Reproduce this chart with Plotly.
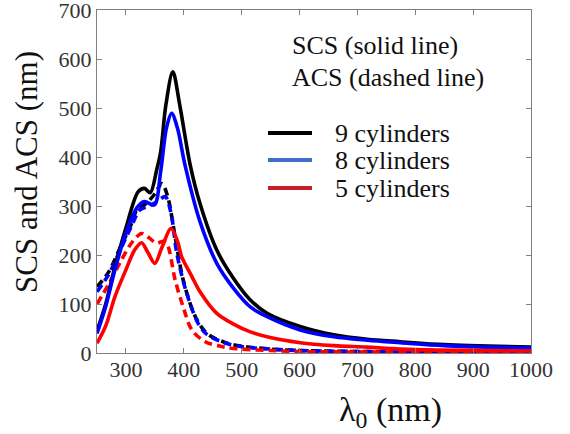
import plotly.graph_objects as go

# wavelength (nm) and values (nm)
scs9_x = [250, 265, 281, 300, 321, 332, 342, 353, 360, 369, 381, 393, 411, 428, 457, 486, 515, 544, 601, 659, 717, 774, 850, 1000]
scs9_y = [45, 100, 176, 255, 329, 336, 327, 373, 410, 506, 574, 506, 384, 305, 210, 152, 108, 81, 54, 37, 28, 23, 17, 12]

scs8_x = [250, 265, 281, 300, 320, 332, 349, 360, 370, 379, 389, 402, 428, 457, 486, 515, 544, 601, 659, 717, 774, 850, 1000]
scs8_y = [40, 95, 170, 245, 298, 309, 302, 370, 459, 489, 459, 384, 268, 183, 132, 94, 74, 47, 33, 26, 21, 15, 10]

scs5_x = [250, 265, 281, 300, 315, 327, 338, 350, 362, 378, 390, 396, 414, 428, 457, 486, 515, 544, 601, 659, 717, 774, 1000]
scs5_y = [20, 55, 115, 170, 210, 225, 205, 183, 215, 254, 225, 197, 156, 125, 81, 59, 43, 33, 21, 15, 12, 8, 4]

acs9_x = [250, 270, 290, 310, 320, 335, 350, 362, 372, 385, 399, 420, 440, 470, 500, 550, 600, 700, 1000]
acs9_y = [135, 165, 215, 265, 295, 305, 325, 346, 320, 237, 149, 74, 40, 22, 14, 8, 5, 3, 1]

acs8_x = [250, 270, 290, 310, 324, 340, 355, 368, 378, 388, 405, 425, 440, 470, 500, 550, 600, 700, 1000]
acs8_y = [125, 160, 210, 260, 292, 300, 310, 319, 285, 203, 122, 60, 38, 21, 13, 8, 5, 3, 1]

acs5_x = [250, 270, 290, 310, 327, 340, 353, 365, 372, 385, 400, 414, 437, 470, 500, 550, 600, 700, 1000]
acs5_y = [100, 140, 185, 225, 244, 235, 224, 228, 220, 149, 90, 47, 23, 12, 8, 5, 3, 2, 1]

legend_labels = ["9 cylinders", "8 cylinders", "5 cylinders"]
x_ticks = [300, 400, 500, 600, 700, 800, 900, 1000]
y_ticks = [0, 100, 200, 300, 400, 500, 600, 700]

BLACK, BLUE, RED = "#000000", "#0000ff", "#ff0000"
LEG_COLORS = ["#000000", "#3d6fc6", "#c8202a"]
FONT = "Liberation Serif"

fig = go.Figure()
for xs, ys, c in [(acs9_x, acs9_y, BLACK), (acs8_x, acs8_y, BLUE), (acs5_x, acs5_y, RED)]:
    fig.add_trace(go.Scatter(x=xs, y=ys, mode="lines",
                             line=dict(color=c, width=3.6, dash="8px,5px", shape="spline", smoothing=0.9),
                             showlegend=False, hoverinfo="skip"))
for xs, ys, c in [(scs9_x, scs9_y, BLACK), (scs8_x, scs8_y, BLUE), (scs5_x, scs5_y, RED)]:
    fig.add_trace(go.Scatter(x=xs, y=ys, mode="lines",
                             line=dict(color=c, width=3.6, shape="spline", smoothing=0.9),
                             showlegend=False, hoverinfo="skip"))

L, R, T, B = 97, 39, 10, 81
W, H = 570, 434
pw, ph = W - L - R, H - T - B

def px(x):
    return (x - L) / pw

def py(y):
    return (H - B - y) / ph

axis_common = dict(showline=True, linecolor="#808080", linewidth=1.2, mirror="ticks",
                   ticks="inside", ticklen=5, tickcolor="#808080", showgrid=False, zeroline=False,
                   ticklabeloverflow="allow", automargin=False,
                   tickfont=dict(family=FONT, size=22, color="#333333"))

fig.update_layout(
    template="none",
    width=W, height=H,
    margin=dict(l=L, r=R, t=T, b=B, autoexpand=False),
    paper_bgcolor="white", plot_bgcolor="white",
    font=dict(family=FONT),
    xaxis=dict(range=[250, 1000], tickvals=x_ticks, ticklabelstandoff=-4, **axis_common),
    yaxis=dict(range=[0, 700], tickvals=y_ticks, **axis_common),
    showlegend=False,
)

def ann(text, x, y, size, xanchor="center", angle=0):
    return dict(text=text, x=px(x), y=py(y), xref="paper", yref="paper",
                xanchor=xanchor, yanchor="middle", textangle=angle, showarrow=False,
                font=dict(family=FONT, size=size, color="#111111"))

annotations = [
    ann("SCS and ACS (nm)", 27, 172, 31, angle=-90),
    ann("λ<sub>0</sub> (nm)", 390, 412, 34),
    ann("SCS (solid line)", 290, 45, 26, xanchor="left"),
    ann("ACS (dashed line)", 290, 77, 26, xanchor="left"),
]
shapes = []
for lab, col, yy in zip(legend_labels, LEG_COLORS, [133, 160, 188]):
    shapes.append(dict(type="line", xref="paper", yref="paper", x0=px(268), x1=px(312),
                       y0=py(yy), y1=py(yy), line=dict(color=col, width=4)))
    annotations.append(ann(lab, 333, yy, 26, xanchor="left"))

fig.update_layout(annotations=annotations, shapes=shapes)
fig.write_html("out.html")
